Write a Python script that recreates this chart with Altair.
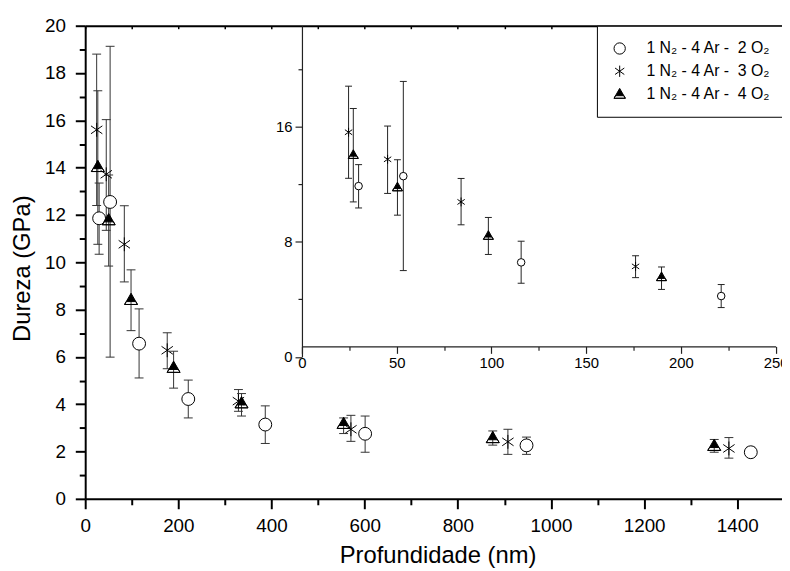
import altair as alt
import pandas as pd

# ---------------- data ----------------
series_labels = ["1 N₂ - 4 Ar -\u00a0 2 O₂", "1 N₂ - 4 Ar -\u00a0 3 O₂", "1 N₂ - 4 Ar -\u00a0 4 O₂"]

# 1 N2 - 4 Ar - 2 O2 (open circles)
x_2 = [29.9, 53.5, 115.7, 221.3, 386.6, 601.0, 947.5, 1429.0]
y_2 = [11.86, 12.55, 6.56, 4.22, 3.14, 2.75, 2.26, 1.97]
lo_2 = [10.34, 5.99, 5.11, 3.42, 2.34, 1.97, 1.88, 1.79]
hi_2 = [13.35, 19.13, 8.03, 5.02, 3.93, 3.50, 2.61, 2.18]

# 1 N2 - 4 Ar - 3 O2 (asterisks)
x_3 = [24.6, 45.2, 84.0, 176.1, 329.0, 570.5, 907.5, 1382.0]
y_3 = [15.60, 13.72, 10.76, 6.28, 4.13, 2.94, 2.41, 2.13]
lo_3 = [12.40, 11.35, 9.17, 5.50, 3.70, 2.43, 1.88, 1.72]
hi_3 = [18.80, 16.03, 12.39, 7.02, 4.62, 3.53, 2.94, 2.59]

# 1 N2 - 4 Ar - 4 O2 (half-filled triangles)
x_4 = [27.1, 50.4, 98.4, 189.8, 335.6, 554.8, 875.0, 1350.5]
y_4 = [14.04, 11.79, 8.42, 5.55, 4.05, 3.18, 2.58, 2.25]
lo_4 = [10.76, 9.84, 7.11, 4.68, 3.50, 2.76, 2.27, 1.97]
hi_4 = [17.25, 13.69, 9.68, 6.24, 4.45, 3.42, 2.87, 2.51]

main_x_ticks = list(range(0, 1501, 100))
main_y_ticks = list(range(0, 21, 1))
inset_x_ticks = list(range(0, 251, 25))
inset_y_ticks = [0, 4, 8, 12, 16, 20]
inset_x_max = 250

# ---------------- tables ----------------
def table(label, xs, ys, los, his):
    return pd.DataFrame({"serie": label, "x": xs, "y": ys, "lo": los, "hi": his})

df = pd.concat([
    table(series_labels[0], x_2, y_2, lo_2, hi_2),
    table(series_labels[1], x_3, y_3, lo_3, hi_3),
    table(series_labels[2], x_4, y_4, lo_4, hi_4),
], ignore_index=True)
inset_df = df[df["x"] <= inset_x_max].reset_index(drop=True)

# ---------------- symbols ----------------
STAR = "M0,-1L0,1M-0.82,-0.57L0.82,0.57M-0.82,0.57L0.82,-0.57"
TRI = "M0,-1L1,0.75L-1,0.75ZM-0.743,0.3L-1,0.75L1,0.75L0.743,0.3Z"
shapes = ["circle", STAR, TRI]
fills = ["white", "white", "black"]
strokes = ["black", "black", "black"]
main_sizes = [169, 196, 169]
inset_sizes = [58, 81, 100]

W, H = 704, 478
FONT = "Liberation Sans"

def cond(major_test, major, minor):
    return {"condition": {"test": major_test, "value": major}, "value": minor}

legend = alt.Legend(
    orient="none", legendX=517, legendY=0, title=None,
    padding=15, strokeColor="black", fillColor="white",
    symbolSize=130, symbolStrokeWidth=1,
    labelFontSize=16, labelFont=FONT, labelColor="black",
    labelOffset=19, rowPadding=7,
)
shape_scale = alt.Scale(domain=series_labels, range=shapes)
fill_scale = alt.Scale(domain=series_labels, range=fills)
stroke_scale = alt.Scale(domain=series_labels, range=strokes)

# ---------------- main plot ----------------
def xmain():
    return alt.Scale(domain=[0, 1496], nice=False, zero=False)

def ymain():
    return alt.Scale(domain=[0, 20], nice=False, zero=False)

x_axis_main = alt.Axis(
    orient="bottom", values=main_x_ticks, format="d",
    labelExpr="datum.value % 200 == 0 ? datum.label : ''",
    tickSize=cond("datum.value % 200 == 0", 10, 6), tickWidth=2, tickColor="black",
    domainWidth=2, domainColor="black", labelFontSize=19, labelColor="black",
    labelPadding=8, labelFlush=False, labelOverlap=False, grid=False,
    title="Profundidade (nm)", titleFontSize=24, titleFontWeight="normal",
    titleColor="black", titleX=356, titleY=64, titleBaseline="alphabetic",
)
y_axis_main = alt.Axis(
    orient="left", values=main_y_ticks, format="d",
    labelExpr="datum.value % 2 == 0 ? datum.label : ''",
    tickSize=cond("datum.value % 2 == 0", 10, 6), tickWidth=2, tickColor="black",
    domainWidth=2, domainColor="black", labelFontSize=19, labelColor="black",
    labelPadding=10, labelOverlap=False, grid=False,
    title="Dureza (GPa)", titleFontSize=24, titleFontWeight="normal",
    titleColor="black", titleX=-63, titleY=245, titleAngle=270,
    titleBaseline="middle", titleAlign="center",
)
x_axis_top = alt.Axis(
    orient="top", labels=False, ticks=False, domainWidth=2, domainColor="black",
    title=None, grid=False,
)
x_axis_top_ticks = alt.Axis(
    orient="top", offset=-3, values=main_x_ticks, labels=False, domain=False,
    ticks=True, tickSize=3, tickWidth=1.5, tickColor="black", title=None, grid=False,
)

base = alt.Chart(df)
err = base.mark_rule(color="#333", strokeWidth=1).encode(
    x=alt.X("x:Q", scale=xmain(), axis=x_axis_main),
    y=alt.Y("lo:Q", scale=ymain(), axis=y_axis_main),
    y2="hi:Q",
)
cap_lo = base.mark_rule(color="#333", strokeWidth=1, xOffset=-4.5, x2Offset=4.5).encode(
    x=alt.X("x:Q", scale=xmain(), axis=x_axis_top_ticks), x2="x:Q",
    y=alt.Y("lo:Q", scale=ymain(), axis=None),
)
cap_hi = base.mark_rule(color="#333", strokeWidth=1, xOffset=-4.5, x2Offset=4.5).encode(
    x=alt.X("x:Q", scale=xmain(), axis=x_axis_top), x2="x:Q",
    y=alt.Y("hi:Q", scale=ymain(), axis=None),
)

def main_points(i):
    return base.transform_filter(alt.datum.serie == series_labels[i]).mark_point(
        strokeWidth=1, opacity=1, filled=False, size=main_sizes[i]
    ).encode(
        x=alt.X("x:Q", scale=xmain(), axis=None),
        y=alt.Y("y:Q", scale=ymain(), axis=None),
        shape=alt.Shape("serie:N", scale=shape_scale, legend=legend),
        fill=alt.Fill("serie:N", scale=fill_scale, legend=legend),
        stroke=alt.Stroke("serie:N", scale=stroke_scale, legend=legend),
    )

pts = [main_points(i) for i in range(3)]

# ---------------- inset ----------------
def xin():
    return alt.Scale(domain=[0, 250], range=[219, 697.5], nice=False, zero=False)

def yin():
    return alt.Scale(domain=[0, 23], range=[334.5, 0], nice=False, zero=False)

x_axis_in = alt.Axis(
    orient="bottom", offset=-154, values=inset_x_ticks, format="d",
    labelExpr="datum.value % 50 == 0 ? datum.label : ''",
    tickSize=cond("datum.value % 50 == 0", 7, 4), tickWidth=1.2, tickColor="#222",
    domainWidth=1.2, domainColor="#222", labelFontSize=15, labelColor="black",
    labelPadding=2, labelFlush=False, labelOverlap=False, grid=False, title=None,
)
y_axis_in = alt.Axis(
    orient="left", offset=-219, values=inset_y_ticks, format="d",
    labelExpr="datum.value % 8 == 0 ? datum.label : ''",
    tickSize=cond("datum.value % 8 == 0", 7, 4), tickWidth=1.2, tickColor="#222",
    domainWidth=1.2, domainColor="#222", labelFontSize=15, labelColor="black",
    labelPadding=3, labelOverlap=False, grid=False, title=None,
)

ibase = alt.Chart(inset_df)
ierr = ibase.mark_rule(color="#222", strokeWidth=1).encode(
    x=alt.X("x:Q", scale=xin(), axis=x_axis_in),
    y=alt.Y("lo:Q", scale=yin(), axis=y_axis_in),
    y2="hi:Q",
)
icap_lo = ibase.mark_rule(color="#222", strokeWidth=1, xOffset=-3.5, x2Offset=3.5).encode(
    x=alt.X("x:Q", scale=xin(), axis=None), x2="x:Q",
    y=alt.Y("lo:Q", scale=yin(), axis=None),
)
icap_hi = ibase.mark_rule(color="#222", strokeWidth=1, xOffset=-3.5, x2Offset=3.5).encode(
    x=alt.X("x:Q", scale=xin(), axis=None), x2="x:Q",
    y=alt.Y("hi:Q", scale=yin(), axis=None),
)

def inset_points(i):
    return ibase.transform_filter(alt.datum.serie == series_labels[i]).mark_point(
        shape=shapes[i], fill=fills[i], stroke="black", strokeWidth=1, opacity=1,
        size=inset_sizes[i]
    ).encode(
        x=alt.X("x:Q", scale=xin(), axis=None),
        y=alt.Y("y:Q", scale=yin(), axis=None),
    )

ipts = [inset_points(i) for i in range(3)]

chart = alt.layer(
    err, cap_lo, cap_hi, *pts, ierr, icap_lo, icap_hi, *ipts
).resolve_scale(x="independent", y="independent").properties(
    width=W, height=H,
    autosize=alt.AutoSizeParams(type="none"),
    padding={"left": 78, "top": 15, "right": 0, "bottom": 70},
).configure(font=FONT, background="white").configure_view(stroke=None)

chart.save("out.html", embed_options={"renderer": "svg", "actions": False})
